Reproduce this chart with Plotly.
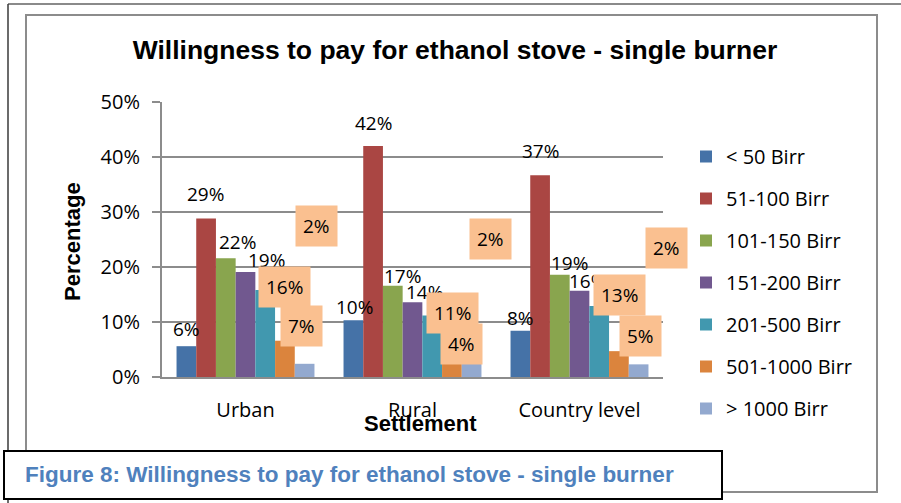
import plotly.graph_objects as go

categories = ["Urban", "Rural", "Country level"]
series_names = ["< 50 Birr", "51-100 Birr", "101-150 Birr", "151-200 Birr",
                "201-500 Birr", "501-1000 Birr", "> 1000 Birr"]
v_lt50 = [0.056, 0.103, 0.084]
v_51_100 = [0.288, 0.420, 0.367]
v_101_150 = [0.216, 0.166, 0.186]
v_151_200 = [0.191, 0.136, 0.157]
v_201_500 = [0.158, 0.112, 0.129]
v_501_1000 = [0.066, 0.038, 0.047]
v_gt1000 = [0.024, 0.024, 0.023]
series_values = [v_lt50, v_51_100, v_101_150, v_151_200, v_201_500, v_501_1000, v_gt1000]
y_ticks = [0, 0.1, 0.2, 0.3, 0.4, 0.5]

colors = ["#4572A7", "#AA4643", "#89A54E", "#71588F", "#4198AF", "#DB843D", "#93A9CF"]
boxed = [False, False, False, False, True, True, True]
# label offsets (pixels) relative to the top-centre of each bar: (dx, dy up)
label_dx = [[0, 1, 0], [-1, 0, 0], [12, 10, 10], [21, 12, 8], [19, 20, 20], [17, 10, 22], [12, 19, 28]]
label_dy = [[17, 13, 13], [25, 23, 24], [16, 10, 12], [12, 10, 10], [3, 2, 11], [15, 12, 15], [138, 125, 116]]

FONT = "Open Sans, Noto Sans, sans-serif"
NARROW = "Liberation Sans Narrow, Arial Narrow, Liberation Sans, Arial, sans-serif"

L, R, T, B = 162, 238, 102, 126
W, H = 901, 503
pw, ph = W - L - R, H - T - B
bargap = 0.174
n = len(series_names)
bar_px = pw / len(categories) * (1 - bargap) / n

fig = go.Figure()
annotations = []
for i, (name, vals) in enumerate(zip(series_names, series_values)):
    fig.add_trace(go.Bar(
        x=categories, y=vals, name=name, marker_color=colors[i],
        marker_line_width=0, legendgroup=name,
    ))
    for j, c in enumerate(categories):
        a = dict(x=c, y=vals[j], xref="x", yref="y", text=format(vals[j], ".0%"),
                 showarrow=False, xanchor="center", yanchor="middle",
                 xshift=(i - (n - 1) / 2) * bar_px + label_dx[i][j],
                 yshift=label_dy[i][j],
                 font=dict(family=FONT, size=19, color="#000"))
        if boxed[i]:
            a.update(bgcolor="#FAC090", borderpad=7)
        annotations.append(a)

def px(x):
    return (x - L) / pw

def py(y):
    return (H - B - y) / ph

shapes = [
    # outer page frame
    dict(type="line", xref="paper", yref="paper", x0=px(8), x1=px(901), y0=py(4), y1=py(4),
         line=dict(color="#8A8A8A", width=2)),
    dict(type="line", xref="paper", yref="paper", x0=px(8), x1=px(8), y0=py(4), y1=py(503),
         line=dict(color="#3A3A3A", width=1.5)),
    # chart frame
    dict(type="rect", xref="paper", yref="paper", x0=px(26), x1=px(877), y0=py(492), y1=py(15),
         line=dict(color="#8C8C8C", width=2), fillcolor="rgba(0,0,0,0)"),
    # caption box
    dict(type="rect", xref="paper", yref="paper", x0=px(4), x1=px(722), y0=py(499), y1=py(451),
         line=dict(color="#000000", width=2), fillcolor="#FFFFFF"),
]

annotations += [
    dict(text="<b>Percentage</b>", xref="paper", yref="paper", x=px(73), y=py(242),
         textangle=-90, showarrow=False, xanchor="center", yanchor="middle",
         font=dict(family=NARROW, size=22, color="#000")),
    dict(text="<b>Settlement</b>", xref="paper", yref="paper", x=px(420), y=py(423),
         showarrow=False, xanchor="center", yanchor="middle",
         font=dict(family=NARROW, size=22, color="#000")),
    dict(text="<b>Figure 8: Willingness to pay for ethanol stove - single burner</b>",
         xref="paper", yref="paper", x=px(23), y=py(474), showarrow=False,
         xanchor="left", yanchor="middle",
         font=dict(family="Liberation Sans, Arial, sans-serif", size=22.5, color="#4F81BD")),
]

fig.update_layout(
    width=W, height=H,
    margin=dict(l=L, r=R, t=T, b=B, autoexpand=False),
    paper_bgcolor="white", plot_bgcolor="white",
    barmode="group", bargap=bargap, bargroupgap=0,
    title=dict(text="<b>Willingness to pay for ethanol stove - single burner</b>",
               x=455 / W, y=1 - 50 / H, xanchor="center", yanchor="middle",
               font=dict(family=NARROW, size=26.5, color="#000")),
    legend=dict(x=px(686), y=py(137), xanchor="left", yanchor="top",
                font=dict(family=FONT, size=20, color="#000"),
                tracegroupgap=13, bgcolor="rgba(0,0,0,0)", maxheight=600),
    shapes=shapes, annotations=annotations,
    showlegend=True,
)
fig.update_xaxes(range=[-0.5, len(categories) - 0.5], autorange=False,
                 showline=True, linecolor="#8C8C8C", linewidth=2, ticks="",
                 tickfont=dict(family=FONT, size=20, color="#000"),
                 ticklabelstandoff=14)
fig.update_yaxes(range=[0, 0.5], autorange=False, tickvals=y_ticks, tickformat=".0%",
                 showline=True, linecolor="#8C8C8C", linewidth=2,
                 ticks="outside", ticklen=8, tickcolor="#8C8C8C", tickwidth=2,
                 showgrid=True, gridcolor="#8C8C8C", gridwidth=2, zeroline=False,
                 ticklabelstandoff=8,
                 tickfont=dict(family=FONT, size=20, color="#000"))

fig.write_html("out.html", config={"displayModeBar": False},
               post_script="document.body.style.margin='0';document.body.style.overflow='hidden';")
